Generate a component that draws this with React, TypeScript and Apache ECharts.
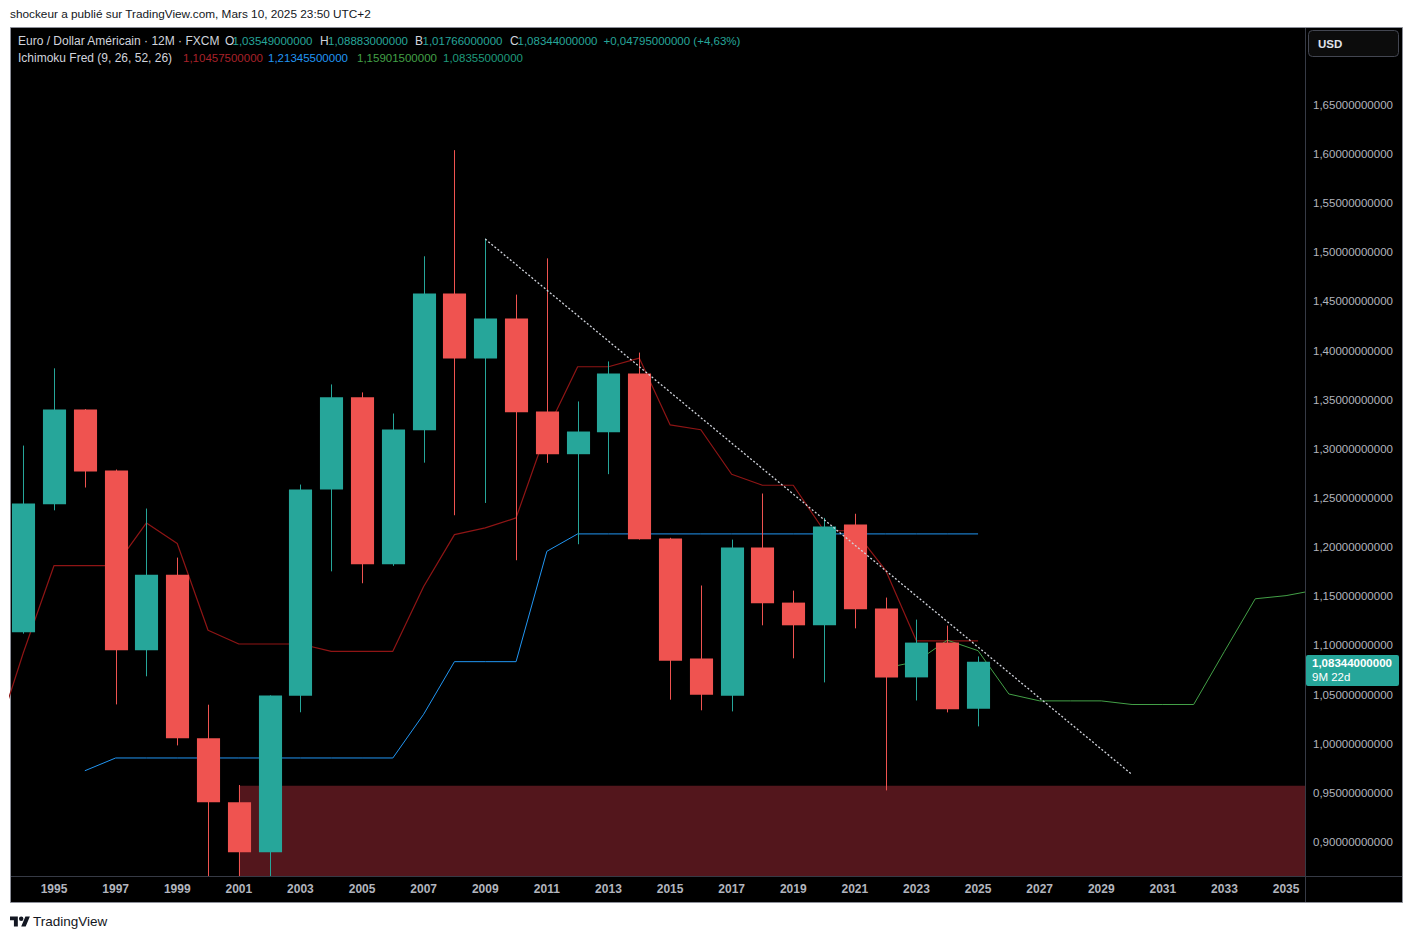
import React, { useEffect, useRef } from "react";
import * as echarts from "echarts";

// ---------- data ----------
const years = [1994, 1995, 1996, 1997, 1998, 1999, 2000, 2001, 2002, 2003, 2004, 2005, 2006, 2007, 2008, 2009, 2010, 2011, 2012, 2013, 2014, 2015, 2016, 2017, 2018, 2019, 2020, 2021, 2022, 2023, 2024, 2025];
const opens = [1.1135, 1.2438, 1.34, 1.278, 1.095, 1.172, 1.0055, 0.9404, 0.8895, 1.0489, 1.2587, 1.3525, 1.1827, 1.319, 1.4582, 1.392, 1.4328, 1.3381, 1.2946, 1.317, 1.3768, 1.2088, 1.0866, 1.0489, 1.1996, 1.1436, 1.1205, 1.223, 1.1375, 1.0675, 1.1029, 1.03549];
const closes = [1.2445, 1.34, 1.277, 1.095, 1.172, 1.0055, 0.9404, 0.8895, 1.049, 1.2587, 1.3525, 1.1827, 1.3197, 1.4582, 1.392, 1.4328, 1.3374, 1.2946, 1.3177, 1.3768, 1.208, 1.0845, 1.0499, 1.1996, 1.1429, 1.1205, 1.221, 1.1368, 1.0675, 1.1029, 1.0352, 1.08344];
const lows = [1.112, 1.2375, 1.2607, 1.04, 1.0686, 0.9983, 0.8228, 0.8348, 0.8565, 1.032, 1.1754, 1.1633, 1.181, 1.286, 1.2325, 1.245, 1.1867, 1.2858, 1.203, 1.2743, 1.2077, 1.0448, 1.034, 1.0329, 1.1205, 1.0869, 1.0624, 1.1174, 0.9525, 1.044, 1.0319, 1.01766];
const highs = [1.3034, 1.382, 1.3405, 1.279, 1.2393, 1.1894, 1.0397, 0.958, 1.0492, 1.2637, 1.3656, 1.3575, 1.336, 1.496, 1.604, 1.514, 1.457, 1.4939, 1.3483, 1.389, 1.398, 1.2095, 1.161, 1.2077, 1.2546, 1.1558, 1.2298, 1.234, 1.1487, 1.1263, 1.1202, 1.08883];

const tenkanYears = [1993, 1994, 1995, 1996, 1997, 1998, 1999, 2000, 2001, 2002, 2003, 2004, 2005, 2006, 2007, 2008, 2009, 2010, 2011, 2012, 2013, 2014, 2015, 2016, 2017, 2018, 2019, 2020, 2021, 2022, 2023, 2024, 2025];
const tenkanValues = [0.995, 1.0923, 1.1813, 1.1813, 1.1813, 1.2247, 1.2037, 1.1154, 1.1015, 1.1015, 1.1015, 1.094, 1.094, 1.094, 1.16, 1.2128, 1.2196, 1.2298, 1.3187, 1.3836, 1.3836, 1.3924, 1.3245, 1.3195, 1.2742, 1.263, 1.263, 1.2167, 1.2167, 1.1765, 1.1046, 1.1046, 1.1046];

const kijunYears = [1996, 1997, 1998, 1999, 2000, 2001, 2002, 2003, 2004, 2005, 2006, 2007, 2008, 2009, 2010, 2011, 2012, 2013, 2014, 2015, 2016, 2017, 2018, 2019, 2020, 2021, 2022, 2023, 2024, 2025];
const kijunValues = [0.9725, 0.9855, 0.9855, 0.9855, 0.9855, 0.9855, 0.9855, 0.9855, 0.9855, 0.9855, 0.9855, 1.03, 1.0835, 1.0835, 1.0835, 1.1958, 1.2135, 1.2135, 1.2135, 1.2135, 1.2135, 1.2135, 1.2135, 1.2135, 1.2135, 1.2135, 1.2135, 1.2135, 1.2135, 1.2135];

const spanAYears = [2022, 2023, 2024, 2025, 2026, 2027, 2028, 2029, 2030, 2031, 2032, 2033, 2034, 2035, 2036];
const spanAValues = [1.077, 1.0836, 1.1054, 1.0947, 1.0506, 1.0436, 1.0436, 1.0436, 1.0399, 1.0399, 1.0399, 1.094, 1.1475, 1.1507, 1.1566];

const trendYears = [2009, 2029.97];
const trendValues = [1.5135, 0.9694];

const zoneYears = [2001, 2040];
const zoneTop = 0.9572;

const xTickYears = [1995, 1997, 1999, 2001, 2003, 2005, 2007, 2009, 2011, 2013, 2015, 2017, 2019, 2021, 2023, 2025, 2027, 2029, 2031, 2033, 2035];
const yTicks = [0.9, 0.95, 1.0, 1.05, 1.1, 1.15, 1.2, 1.25, 1.3, 1.35, 1.4, 1.45, 1.5, 1.55, 1.6, 1.65];

const lastClose = 1.08344;
const countdown = "9M 22d";

// ---------- styles ----------
const X_MIN = 1993.57;
const X_MAX = 2035.615;
const Y_MIN = 0.8654;
const Y_MAX = 1.7283;
const UP = "#26a69a";
const DOWN = "#ef5350";
const FONT = '"Liberation Sans", Arial, sans-serif';
const TEXT_LIGHT = "#d1d4dc";
const SCALE_TEXT = "#b2b5be";

const fmt = (v: number) => v.toFixed(11).replace(".", ",");

const TV_LOGO = "M14 22H7V11H0V4h14v18zM28 22h-8l7.5-18h8L28 22zM24 8a4 4 0 1 1-8 0a4 4 0 1 1 8 0z";
echarts.graphic.registerShape("tvlogo", echarts.graphic.extendPath(TV_LOGO, {}) as any);

function txt(id: string, x: number, y: number, text: string, fill: string, size = 11.5, weight = "normal"): any {
  return {
    type: "text",
    id,
    x,
    y,
    silent: true,
    z: 50,
    style: { text, fill, font: `${weight} ${size}px ${FONT}`, verticalAlign: "middle" },
  };
}

function baseGraphics(): any[] {
  return [
    {
      type: "rect",
      id: "frame",
      z: -100,
      silent: true,
      shape: { x: 10.5, y: 27.5, width: 1392, height: 875 },
      style: { fill: "#000000", stroke: "#8c8f99", lineWidth: 1 },
    },
    {
      type: "line",
      id: "vsep",
      z: 40,
      silent: true,
      shape: { x1: 1305.5, y1: 28, x2: 1305.5, y2: 902 },
      style: { stroke: "#363a45", lineWidth: 1 },
    },
    {
      type: "line",
      id: "hsep",
      z: 40,
      silent: true,
      shape: { x1: 11, y1: 876.5, x2: 1402, y2: 876.5 },
      style: { stroke: "#363a45", lineWidth: 1 },
    },
    txt("pub", 10, 14, "shockeur a publié sur TradingView.com, Mars 10, 2025 23:50 UTC+2", "#131722", 11.8),
    txt("t1", 18, 41, "Euro / Dollar Américain · 12M · FXCM", TEXT_LIGHT, 12),
    txt("o", 225, 41, "O", TEXT_LIGHT, 12),
    txt("ov", 232.5, 41, fmt(opens[opens.length - 1]), UP),
    txt("h", 320, 41, "H", TEXT_LIGHT, 12),
    txt("hv", 328, 41, fmt(highs[highs.length - 1]), UP),
    txt("b", 415, 41, "B", TEXT_LIGHT, 12),
    txt("bv", 422.5, 41, fmt(lows[lows.length - 1]), UP),
    txt("c", 510, 41, "C", TEXT_LIGHT, 12),
    txt("cv", 517.5, 41, fmt(closes[closes.length - 1]), UP),
    txt("chg", 603.5, 41, "+0,04795000000 (+4,63%)", UP),
    txt("t2", 18, 58, "Ichimoku Fred (9, 26, 52, 26)", TEXT_LIGHT, 12),
    txt("v1", 183, 58, "1,10457500000", "#a8222a"),
    txt("v2", 268, 58, "1,21345500000", "#2196f3"),
    txt("v3", 357, 58, "1,15901500000", "#43a047"),
    txt("v4", 443, 58, "1,08355000000", "#1f9a7c"),
    {
      type: "rect",
      id: "usdbox",
      z: 45,
      silent: true,
      shape: { x: 1308.5, y: 30.5, width: 90, height: 26, r: 4 },
      style: { fill: "#0c0c0c", stroke: "#434651", lineWidth: 1 },
    },
    txt("usd", 1318, 44, "USD", "#e0e3eb", 11.5, "bold"),
    {
      type: "tvlogo",
      id: "logo",
      x: 10,
      y: 914.2,
      scaleX: 0.56,
      scaleY: 0.56,
      silent: true,
      style: { fill: "#131722" },
    },
    txt("tvtext", 33, 921.5, "TradingView", "#131722", 13.5),
  ];
}

function buildOption(): any {
  const candleData = years.map((y, i) => [y, opens[i], closes[i], lows[i], highs[i]]);
  return {
    animation: false,
    backgroundColor: "#ffffff",
    grid: { left: 10, top: 28, width: 1295, height: 848, containLabel: false },
    xAxis: {
      type: "value",
      min: X_MIN,
      max: X_MAX,
      splitLine: { show: false },
      axisLine: { show: false },
      axisTick: { show: false },
      axisLabel: {
        customValues: xTickYears,
        formatter: (v: number) => String(Math.round(v)),
        color: SCALE_TEXT,
        fontWeight: "bold",
        fontSize: 12,
        fontFamily: FONT,
        margin: 7,
      },
    },
    yAxis: {
      type: "value",
      position: "right",
      min: Y_MIN,
      max: Y_MAX,
      splitLine: { show: false },
      axisLine: { show: false },
      axisTick: { show: false },
      axisLabel: {
        customValues: yTicks,
        formatter: (v: number) => fmt(v),
        color: SCALE_TEXT,
        fontSize: 11.5,
        fontFamily: FONT,
        margin: 8,
      },
    },
    series: [
      {
        type: "line",
        name: "zone",
        z: 1,
        silent: true,
        showSymbol: false,
        data: zoneYears.map((y) => [y, zoneTop]),
        lineStyle: { width: 0, color: "#53161c" },
        areaStyle: { origin: "start", color: "#53161c", opacity: 1 },
      },
      {
        type: "line",
        name: "Tenkan",
        z: 2,
        silent: true,
        showSymbol: false,
        data: tenkanYears.map((y, i) => [y, tenkanValues[i]]),
        lineStyle: { width: 1.2, color: "#8f1515" },
      },
      {
        type: "line",
        name: "Kijun",
        z: 2,
        silent: true,
        showSymbol: false,
        data: kijunYears.map((y, i) => [y, kijunValues[i]]),
        lineStyle: { width: 1, color: "#2196f3" },
      },
      {
        type: "line",
        name: "Span A",
        z: 2,
        silent: true,
        showSymbol: false,
        data: spanAYears.map((y, i) => [y, spanAValues[i]]),
        lineStyle: { width: 1, color: "#43a047" },
      },
      {
        type: "custom",
        name: "EURUSD",
        z: 3,
        silent: true,
        data: candleData,
        encode: { x: 0, y: [1, 2, 3, 4] },
        renderItem: (params: any, api: any) => {
          const x = api.value(0);
          const o = api.value(1);
          const c = api.value(2);
          const l = api.value(3);
          const h = api.value(4);
          const cs = params.coordSys;
          const top = cs.y;
          const bottom = cs.y + cs.height;
          const clampY = (v: number) => Math.max(top, Math.min(bottom, v));
          const pO = api.coord([x, o]);
          const pC = api.coord([x, c]);
          const pH = api.coord([x, h]);
          const pL = api.coord([x, l]);
          const w = api.size([1, 0])[0] * 0.75;
          const color = c >= o ? UP : DOWN;
          const cx = Math.round(pO[0]) + 0.5;
          const yTop = clampY(Math.min(pO[1], pC[1]));
          const yBot = clampY(Math.max(pO[1], pC[1]));
          return {
            type: "group",
            children: [
              {
                type: "line",
                shape: { x1: cx, y1: clampY(pH[1]), x2: cx, y2: clampY(pL[1]) },
                style: { stroke: color, lineWidth: 1 },
              },
              {
                type: "rect",
                shape: { x: cx - w / 2, y: yTop, width: w, height: Math.max(1, yBot - yTop) },
                style: { fill: color },
              },
            ],
          };
        },
      },
      {
        type: "line",
        name: "trend",
        z: 4,
        silent: true,
        showSymbol: false,
        data: trendYears.map((y, i) => [y, trendValues[i]]),
        lineStyle: { width: 1.3, color: "#d1d4dc", type: [2, 2] },
      },
    ],
    graphic: { elements: baseGraphics() },
  };
}

export default function App() {
  const ref = useRef<HTMLDivElement>(null);
  useEffect(() => {
    if (!ref.current) return;
    const chart = echarts.init(ref.current, null, { renderer: "svg", width: 1413, height: 939 });
    chart.setOption(buildOption());
    const py = chart.convertToPixel({ yAxisIndex: 0 }, lastClose) as number;
    const priceLabel = {
      type: "group",
      id: "pricelabel",
      x: 1306,
      y: Math.round(py) - 7,
      z: 60,
      silent: true,
      children: [
        {
          type: "rect",
          shape: { x: 0, y: 0, width: 93, height: 31, r: 2 },
          style: { fill: UP },
        },
        {
          type: "text",
          x: 6,
          y: 8,
          style: { text: fmt(lastClose), fill: "#ffffff", font: `bold 11.5px ${FONT}`, verticalAlign: "middle" },
        },
        {
          type: "text",
          x: 6,
          y: 22,
          style: { text: countdown, fill: "#ffffff", font: `11.5px ${FONT}`, verticalAlign: "middle" },
        },
      ],
    };
    chart.setOption({ graphic: { elements: [...baseGraphics(), priceLabel] } });
    return () => chart.dispose();
  }, []);
  return (
    <div
      ref={ref}
      style={{ position: "fixed", left: 0, top: 0, width: 1413, height: 939, background: "#ffffff" }}
    />
  );
}
